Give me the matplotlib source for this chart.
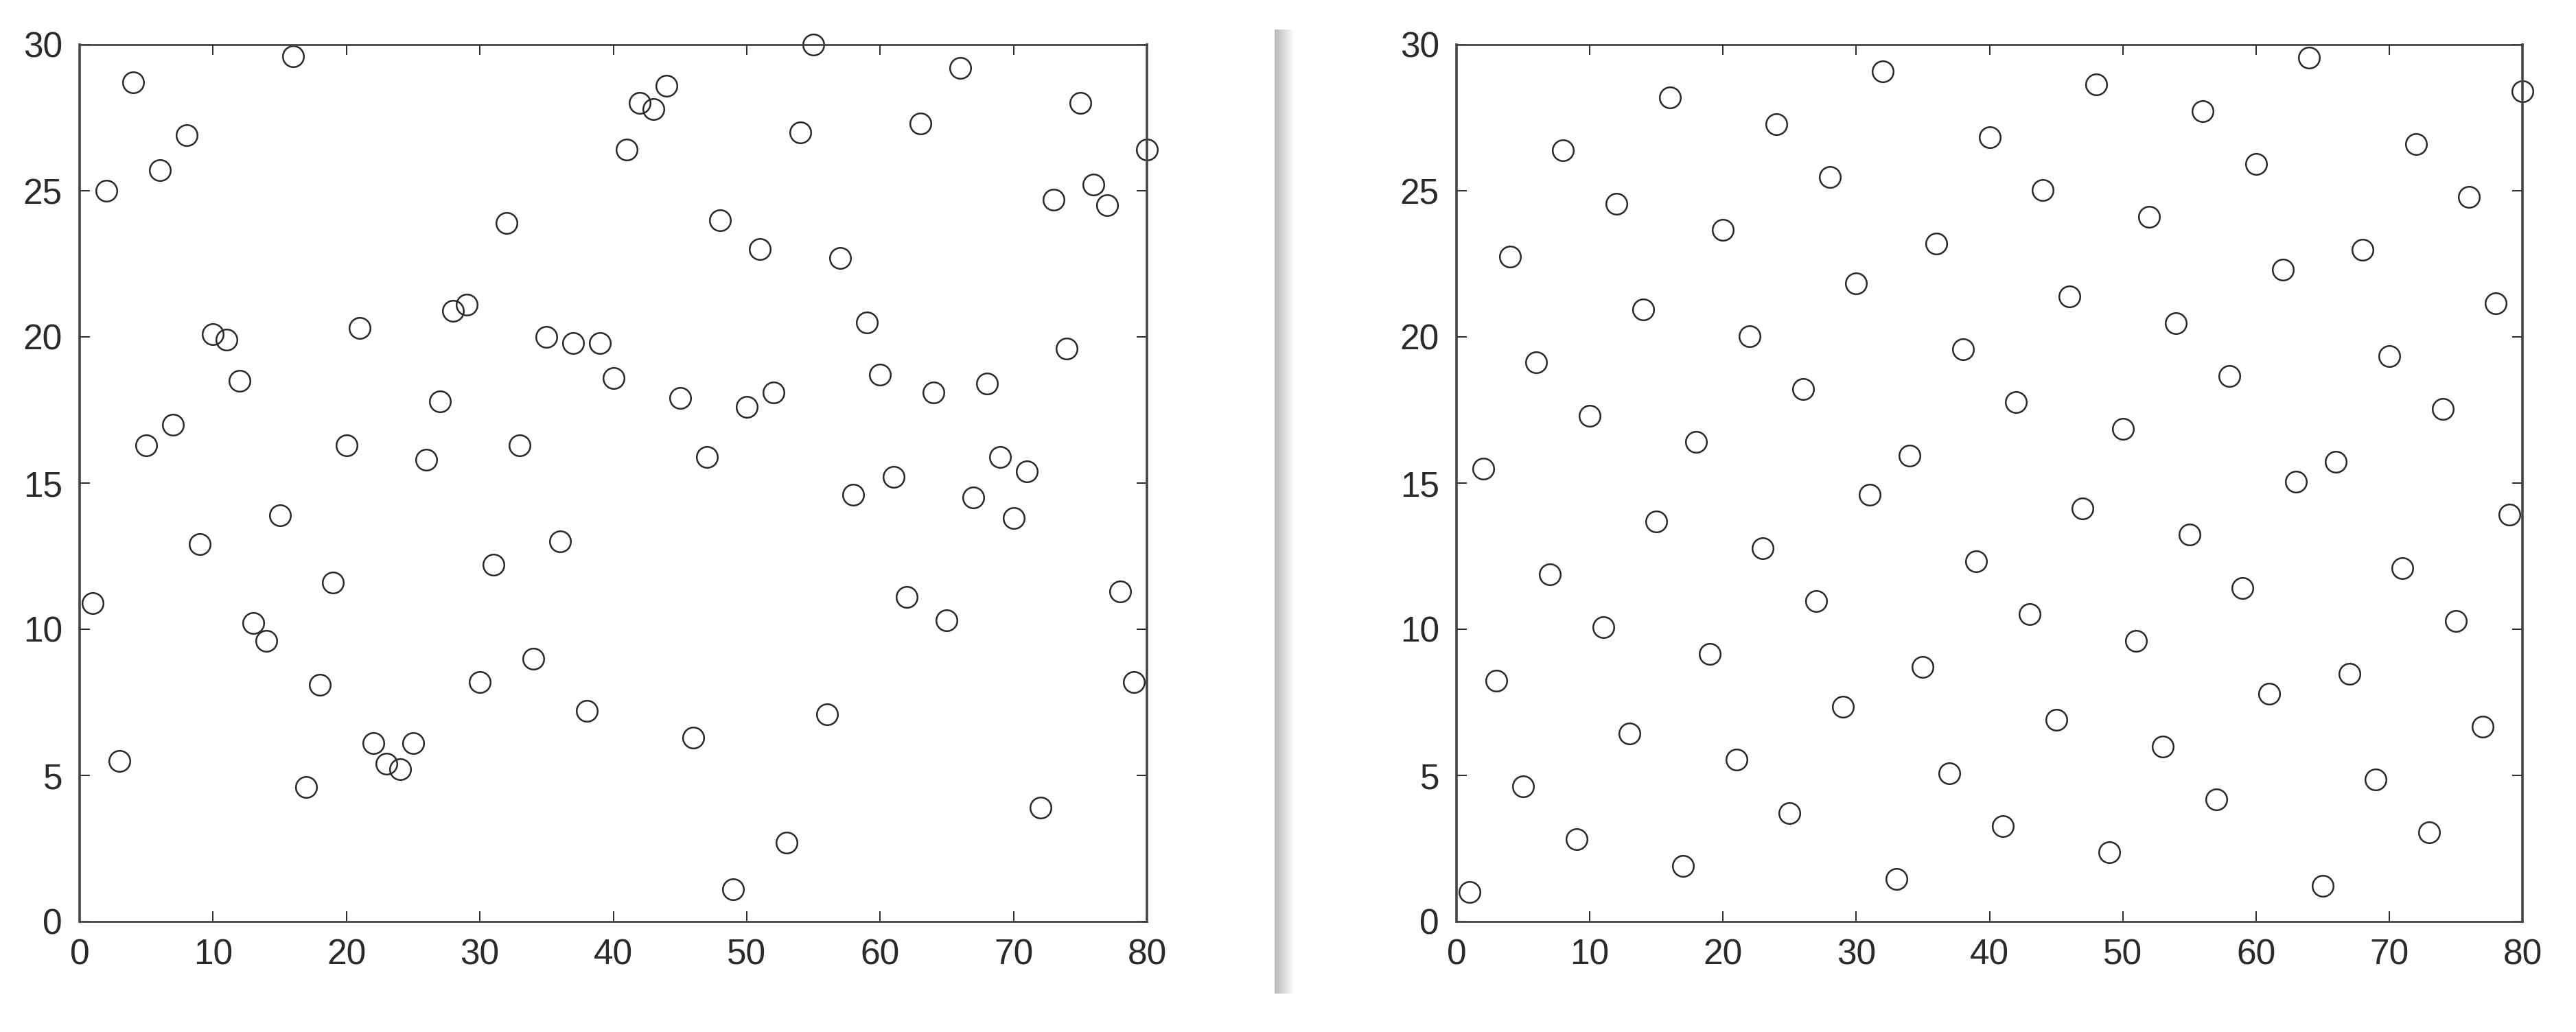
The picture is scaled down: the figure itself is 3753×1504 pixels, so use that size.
import numpy as np
import matplotlib
matplotlib.use("Agg")
import matplotlib.pyplot as plt

plt.rcParams['font.family'] = ['Liberation Sans', 'DejaVu Sans']

# x positions are 1..80 in both panels
x_vals = list(range(1, 81))

# left panel: pseudo-random values
y_random = [10.9, 25.0, 5.5, 28.7, 16.3, 25.7, 17.0, 26.9, 12.9, 20.1,
            19.9, 18.5, 10.2, 9.6, 13.9, 29.6, 4.6, 8.1, 11.6, 16.3,
            20.3, 6.1, 5.4, 5.2, 6.1, 15.8, 17.8, 20.9, 21.1, 8.2,
            12.2, 23.9, 16.3, 9.0, 20.0, 13.0, 19.8, 7.2, 19.8, 18.6,
            26.4, 28.0, 27.8, 28.6, 17.9, 6.3, 15.9, 24.0, 1.1, 17.6,
            23.0, 18.1, 2.7, 27.0, 30.0, 7.1, 22.7, 14.6, 20.5, 18.7,
            15.2, 11.1, 27.3, 18.1, 10.3, 29.2, 14.5, 18.4, 15.9, 13.8,
            15.4, 3.9, 24.7, 19.6, 28.0, 25.2, 24.5, 11.3, 8.2, 26.4]

# right panel: low-discrepancy values
y_quasi = [1.00, 15.50, 8.25, 22.75, 4.63, 19.13, 11.88, 26.38, 2.81, 17.31,
           10.06, 24.56, 6.44, 20.94, 13.69, 28.19, 1.91, 16.41, 9.16, 23.66,
           5.53, 20.03, 12.78, 27.28, 3.72, 18.22, 10.97, 25.47, 7.34, 21.84,
           14.59, 29.09, 1.45, 15.95, 8.70, 23.20, 5.08, 19.58, 12.33, 26.83,
           3.27, 17.77, 10.52, 25.02, 6.89, 21.39, 14.14, 28.64, 2.36, 16.86,
           9.61, 24.11, 5.98, 20.48, 13.23, 27.73, 4.17, 18.67, 11.42, 25.92,
           7.80, 22.30, 15.05, 29.55, 1.23, 15.73, 8.48, 22.98, 4.85, 19.35,
           12.10, 26.60, 3.04, 17.54, 10.29, 24.79, 6.66, 21.16, 13.91, 28.41]

x_ticks = [0, 10, 20, 30, 40, 50, 60, 70, 80]
y_ticks = [0, 5, 10, 15, 20, 25, 30]

W, H = 3753, 1504
fig = plt.figure(figsize=(W / 100, H / 100), dpi=100)
fig.patch.set_facecolor('white')

ink = '#2a2a2a'


def style_axes(ax, xs, ys):
    ax.plot(xs, ys, linestyle='none', marker='o', markersize=22,
            markerfacecolor='none', markeredgecolor=ink,
            markeredgewidth=1.8, clip_on=False)
    ax.set_xlim(0, 80)
    ax.set_ylim(0, 30)
    ax.set_xticks(x_ticks)
    ax.set_yticks(y_ticks)
    ax.tick_params(direction='in', length=11, width=1.4, colors=ink,
                   labelsize=37, pad=18, top=True, right=True)
    for s in ax.spines.values():
        s.set_color('#444444')
        s.set_linewidth(2.0)
    ax.spines['left'].set_linewidth(2.6)
    ax.spines['right'].set_linewidth(2.6)


ax1 = fig.add_axes([116 / W, 1 - 1343 / H, (1671 - 116) / W, 1278 / H])
style_axes(ax1, x_vals, y_random)

ax2 = fig.add_axes([2122 / W, 1 - 1343 / H, (3675 - 2122) / W, 1278 / H])
style_axes(ax2, x_vals, y_quasi)

# grey divider between the two scanned panels
sep = fig.add_axes([1857 / W, 1 - 1448 / H, 28 / W, (1448 - 43) / H])
grad = np.linspace(0.72, 1.0, 64).reshape(1, -1)
sep.imshow(grad, cmap='gray', vmin=0, vmax=1, aspect='auto')
sep.axis('off')

fig.savefig('out.png', dpi=100, facecolor='white')
